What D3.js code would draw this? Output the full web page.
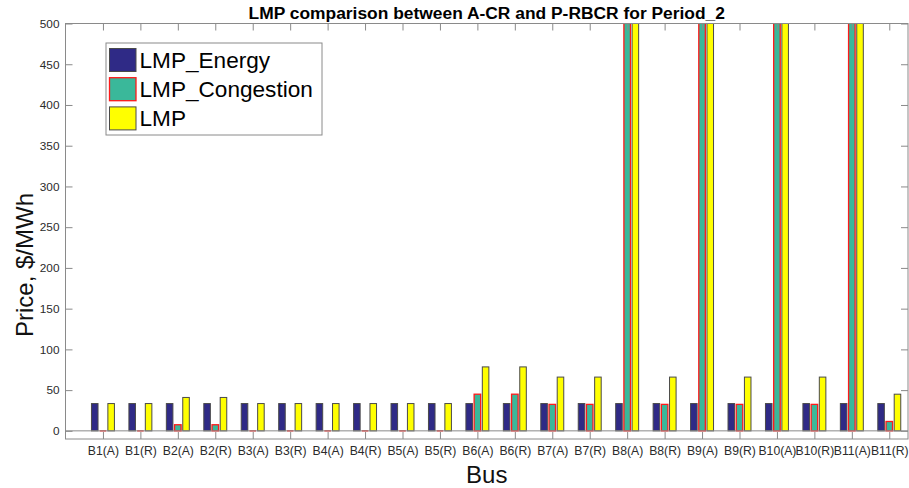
<!DOCTYPE html>
<html>
<head>
<meta charset="utf-8">
<script src="https://cdn.jsdelivr.net/npm/d3@7"></script>
<style>
  body { margin: 0; background: #fff; }
  svg { font-family: "Liberation Sans", Arial, sans-serif; }
</style>
</head>
<body>
<svg id="chart" width="909" height="488"></svg>
<script>
// data
const buses = ["B1(A)", "B1(R)", "B2(A)", "B2(R)", "B3(A)", "B3(R)", "B4(A)", "B4(R)",
  "B5(A)", "B5(R)", "B6(A)", "B6(R)", "B7(A)", "B7(R)", "B8(A)", "B8(R)",
  "B9(A)", "B9(R)", "B10(A)", "B10(R)", "B11(A)", "B11(R)"]
const lmpEnergy = [33.5, 33.5, 33.5, 33.5, 33.5, 33.5, 33.5, 33.5, 33.5, 33.5, 33.5,
  33.5, 33.5, 33.5, 33.5, 33.5, 33.5, 33.5, 33.5, 33.5, 33.5, 33.5]
const lmpCongestion = [0, 0, 7.5, 7.5, 0, 0, 0, 0, 0, 0, 45, 45, 32.5, 32.5, 1500, 32.5,
  1500, 32.5, 1500, 32.5, 1500, 11.5]
const lmp = [33.5, 33.5, 41, 41, 33.5, 33.5, 33.5, 33.5, 33.5, 33.5, 78.5, 78.5, 66, 66,
  1533.5, 66, 1533.5, 66, 1533.5, 66, 1533.5, 45]
const yTicks = [0, 50, 100, 150, 200, 250, 300, 350, 400, 450, 500]

const seriesNames = ["LMP_Energy", "LMP_Congestion", "LMP"]
const seriesValues = [lmpEnergy, lmpCongestion, lmp]

// layout
const LEFT = 65.5, RIGHT = 908, TOP = 23.5, BOTTOM = 439
const TICK_LEN = 7
const BAR_OFFSET = 0.219
const BAR_WIDTH = 0.175
const FILLS = ["#2f2a86", "#3ab89a", "#ffff00"]
const EDGES = ["#4a4a4a", "#ff1a1a", "#4a4a4a"]
const AXIS_COLOR = "#8a8a8a"
const TEXT_COLOR = "#2b2b2b"

const svg = d3.select("#chart")

const x = d3.scaleLinear().domain([0, 22.5]).range([LEFT, RIGHT])
const y = d3.scaleLinear().domain([-10, 500]).range([BOTTOM, TOP])

svg.append("defs").append("clipPath").attr("id", "plotclip")
  .append("rect")
  .attr("x", LEFT).attr("y", TOP)
  .attr("width", RIGHT - LEFT).attr("height", BOTTOM - TOP)

// bars
const rows = []
buses.forEach((b, i) => {
  seriesValues.forEach((vals, s) => {
    rows.push({ bus: b, idx: i + 1, s: s, v: vals[i] })
  })
})

const plot = svg.append("g").attr("clip-path", "url(#plotclip)")

plot.selectAll("rect.bar")
  .data(rows)
  .join("rect")
  .attr("class", "bar")
  .attr("x", d => x(d.idx + (d.s - 1) * BAR_OFFSET - BAR_WIDTH / 2))
  .attr("width", d => x(BAR_WIDTH) - x(0))
  .attr("y", d => y(d.v))
  .attr("height", d => y(0) - y(d.v))
  .attr("fill", d => FILLS[d.s])
  .attr("stroke", d => EDGES[d.s])
  .attr("stroke-width", d => d.s === 1 ? 1.3 : 1)

// baseline at zero
svg.append("line")
  .attr("x1", LEFT).attr("x2", RIGHT)
  .attr("y1", y(0)).attr("y2", y(0))
  .attr("stroke", AXIS_COLOR).attr("stroke-width", 1)

// redraw zero-height congestion bars on top of the baseline
plot.selectAll("line.zero")
  .data(rows.filter(d => d.s === 1 && d.v === 0))
  .join("line")
  .attr("class", "zero")
  .attr("x1", d => x(d.idx - BAR_WIDTH / 2)).attr("x2", d => x(d.idx + BAR_WIDTH / 2))
  .attr("y1", y(0)).attr("y2", y(0))
  .attr("stroke", "#ff1a1a").attr("stroke-width", 1.3)

// axes: box with inward ticks on all sides
const xIdx = buses.map((b, i) => i + 1)

const xAxisBottom = svg.append("g")
  .attr("transform", `translate(0,${BOTTOM})`)
  .call(d3.axisBottom(x).tickValues(xIdx).tickFormat((d, i) => buses[i])
    .tickSizeInner(-TICK_LEN).tickSizeOuter(0).tickPadding(6))
xAxisBottom.select(".domain").remove()
xAxisBottom.selectAll(".tick line").attr("stroke", AXIS_COLOR)
xAxisBottom.selectAll(".tick text")
  .attr("font-size", "12.2px").attr("fill", TEXT_COLOR)
  .attr("font-family", "Liberation Sans, Arial, sans-serif")
  .attr("dy", "0.71em").attr("y", 7)

const xAxisTop = svg.append("g")
  .attr("transform", `translate(0,${TOP})`)
  .call(d3.axisTop(x).tickValues(xIdx).tickFormat("").tickSizeInner(-TICK_LEN).tickSizeOuter(0))
xAxisTop.select(".domain").remove()
xAxisTop.selectAll(".tick line").attr("stroke", AXIS_COLOR)

const yAxisLeft = svg.append("g")
  .attr("transform", `translate(${LEFT},0)`)
  .call(d3.axisLeft(y).tickValues(yTicks).tickSizeInner(-TICK_LEN).tickSizeOuter(0).tickPadding(6))
yAxisLeft.select(".domain").remove()
yAxisLeft.selectAll(".tick line").attr("stroke", AXIS_COLOR)
yAxisLeft.selectAll(".tick text")
  .attr("x", -6)
  .attr("font-size", "11.8px").attr("fill", TEXT_COLOR)
  .attr("font-family", "Liberation Sans, Arial, sans-serif")

const yAxisRight = svg.append("g")
  .attr("transform", `translate(${RIGHT},0)`)
  .call(d3.axisRight(y).tickValues(yTicks).tickFormat("").tickSizeInner(-TICK_LEN).tickSizeOuter(0))
yAxisRight.select(".domain").remove()
yAxisRight.selectAll(".tick line").attr("stroke", AXIS_COLOR)

svg.append("rect")
  .attr("x", LEFT).attr("y", TOP)
  .attr("width", RIGHT - LEFT).attr("height", BOTTOM - TOP)
  .attr("fill", "none").attr("stroke", AXIS_COLOR).attr("stroke-width", 1)

// title + axis labels
svg.append("text")
  .attr("x", (LEFT + RIGHT) / 2).attr("y", 18.5)
  .attr("text-anchor", "middle")
  .attr("font-size", "17.4px").attr("font-weight", "bold").attr("fill", "#000")
  .text("LMP comparison between A-CR and P-RBCR for Period_2")

svg.append("text")
  .attr("x", (LEFT + RIGHT) / 2).attr("y", 483)
  .attr("text-anchor", "middle")
  .attr("font-size", "24px").attr("fill", "#111")
  .text("Bus")

svg.append("text")
  .attr("transform", "translate(33,265)rotate(-90)")
  .attr("text-anchor", "middle")
  .attr("font-size", "24px").attr("fill", "#111")
  .text("Price, $/MWh")

// legend
const legend = svg.append("g").attr("transform", "translate(106,43)")
legend.append("rect")
  .attr("x", 0).attr("y", 0).attr("width", 216).attr("height", 92)
  .attr("fill", "#fff").attr("stroke", "#8a8a8a").attr("stroke-width", 1)

const items = legend.selectAll("g.item")
  .data(seriesNames)
  .join("g")
  .attr("class", "item")
  .attr("transform", (d, i) => `translate(3.5,${5.5 + i * 29.2})`)

items.append("rect")
  .attr("width", 26.5).attr("height", 23)
  .attr("fill", (d, i) => FILLS[i])
  .attr("stroke", (d, i) => EDGES[i])
  .attr("stroke-width", (d, i) => i === 1 ? 1.3 : 1)

items.append("text")
  .attr("x", 30).attr("y", 19.5)
  .attr("font-size", "22.6px").attr("fill", "#000")
  .text(d => d)
</script>
</body>
</html>
